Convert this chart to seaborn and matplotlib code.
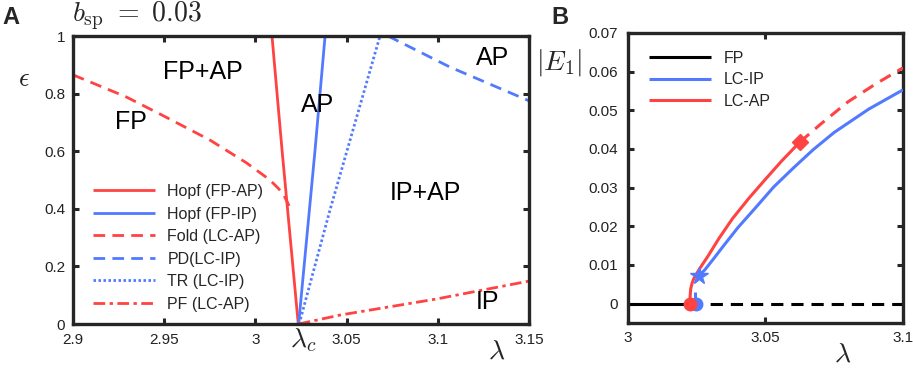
import numpy as np
import pandas as pd
import matplotlib
matplotlib.use("Agg")
import matplotlib.pyplot as plt
import seaborn as sns

# ---------------- data ----------------
# Panel A: bifurcation curves in (lambda, epsilon)
hopf_ap_lam = [3.0091, 3.0146, 3.0235]
hopf_ap_eps = [1.0, 0.604, 0.0]
hopf_ip_lam = [3.0382, 3.0327, 3.0237]
hopf_ip_eps = [1.0, 0.604, 0.0]
fold_lam = [2.900, 2.929, 2.948, 2.975, 2.995, 3.008, 3.015, 3.0185]
fold_eps = [0.865, 0.789, 0.728, 0.639, 0.560, 0.500, 0.455, 0.410]
pd_lam = [3.0727, 3.1067, 3.150]
pd_eps = [1.0, 0.892, 0.775]
tr_lam = [3.0240, 3.0409, 3.0683]
tr_eps = [0.0, 0.396, 1.0]
pf_lam = [3.0237, 3.0464, 3.0994, 3.150]
pf_eps = [0.0, 0.031, 0.087, 0.149]

region_labels = ["FP+AP", "FP", "AP", "AP", "IP+AP", "IP"]
region_lam = [2.971, 2.9317, 3.034, 3.130, 3.093, 3.127]
region_eps = [0.876, 0.700, 0.760, 0.922, 0.455, 0.076]

xticks_A = [2.9, 2.95, 3.0, 3.05, 3.1, 3.15]
xticklabels_A = ["2.9", "2.95", "3", "3.05", "3.1", "3.15"]
yticks_A = [0, 0.2, 0.4, 0.6, 0.8, 1.0]
yticklabels_A = ["0", "0.2", "0.4", "0.6", "0.8", "1"]

# Panel B: amplitude |E1| vs lambda
fp_solid_lam = [3.0, 3.0225]
fp_solid_E = [0.0, 0.0]
fp_dash_lam = [3.0225, 3.1]
fp_dash_E = [0.0, 0.0]
ap_lam = [3.0225, 3.0226, 3.0228, 3.0233, 3.024, 3.026, 3.029, 3.033, 3.038,
          3.044, 3.050, 3.056, 3.0625]
ap_E = [0.0, 0.002, 0.0038, 0.0053, 0.0066, 0.0090, 0.0122, 0.0168, 0.0220,
        0.0273, 0.0322, 0.0370, 0.0418]
ap_dash_lam = [3.0625, 3.070, 3.080, 3.090, 3.100]
ap_dash_E = [0.0418, 0.0464, 0.0522, 0.0568, 0.0610]
ip_stub_lam = [3.0245, 3.0245]
ip_stub_E = [0.0, 0.003]
ip_lam = [3.0258, 3.028, 3.031, 3.035, 3.040, 3.046, 3.053, 3.060, 3.0673,
          3.075, 3.0875, 3.100]
ip_E = [0.0072, 0.0088, 0.0115, 0.0152, 0.0197, 0.0245, 0.0302, 0.0350,
        0.0398, 0.0443, 0.0503, 0.0553]

ap_circle = (3.0225, 0.0)
ip_circle = (3.0246, 0.0)
ip_star = (3.0258, 0.0072)
ap_diamond = (3.0625, 0.0418)

xticks_B = [3.0, 3.05, 3.1]
xticklabels_B = ["3", "3.05", "3.1"]
yticks_B = [0, 0.01, 0.02, 0.03, 0.04, 0.05, 0.06, 0.07]
yticklabels_B = ["0", "0.01", "0.02", "0.03", "0.04", "0.05", "0.06", "0.07"]

# ---------------- style ----------------
sns.set_theme(style="ticks")
plt.rcParams["font.family"] = ["Liberation Sans", "DejaVu Sans"]
plt.rcParams["mathtext.fontset"] = "cm"

RED = "#FF4242"
BLUE = "#527AFF"
SPINE = "#262626"

W, H = 913, 370
fig = plt.figure(figsize=(W / 100, H / 100), dpi=100)

def px_axes(l, t, r, b):
    return fig.add_axes([l / W, 1 - b / H, (r - l) / W, (b - t) / H])

axA = px_axes(73, 36, 529, 324)
axB = px_axes(628, 33, 903, 323)

def line(ax, x, y, color, lw, dashes=None, label=None, zorder=2):
    df = pd.DataFrame({"x": x, "y": y})
    sns.lineplot(data=df, x="x", y="y", ax=ax, color=color, linewidth=lw,
                 sort=False, estimator=None, label=label, legend=False,
                 zorder=zorder)
    ln = ax.get_lines()[-1]
    if dashes is not None:
        ln.set_dashes(dashes)
    ln.set_solid_capstyle("butt")
    ln.set_dash_capstyle("butt")
    ln.set_solid_joinstyle("round")
    return ln

# ---------------- Panel A ----------------
lw = 2.0
h1 = line(axA, hopf_ap_lam, hopf_ap_eps, RED, lw, label="Hopf (FP-AP)")
h2 = line(axA, hopf_ip_lam, hopf_ip_eps, BLUE, lw, label="Hopf (FP-IP)")
h3 = line(axA, fold_lam, fold_eps, RED, lw, dashes=(4.2, 2.6), label="Fold (LC-AP)")
h4 = line(axA, pd_lam, pd_eps, BLUE, lw, dashes=(4.2, 2.6), label="PD(LC-IP)")
h5 = line(axA, tr_lam, tr_eps, BLUE, lw, dashes=(0.9, 0.9), label="TR (LC-IP)")
h6 = line(axA, pf_lam, pf_eps, RED, lw, dashes=(4.2, 1.6, 1.2, 1.6), label="PF (LC-AP)")

for t, x, y in zip(region_labels, region_lam, region_eps):
    axA.text(x, y, t, fontsize=18, ha="center", va="center", color="black")

axA.set_xlim(2.9, 3.15)
axA.set_ylim(0, 1)
axA.set_xticks(xticks_A)
axA.set_xticklabels(xticklabels_A)
axA.set_yticks(yticks_A)
axA.set_yticklabels(yticklabels_A)
axA.set_xlabel("")
axA.set_ylabel("")

axA.legend(handles=[h1, h2, h3, h4, h5, h6], loc="upper left",
           bbox_to_anchor=(20 / 456, 1 - 148 / 288), frameon=False,
           fontsize=11.5, handlelength=3.9, handletextpad=0.75,
           labelspacing=0.47, borderaxespad=0, borderpad=0)

# ---------------- Panel B ----------------
lwB = 2.2
line(axB, fp_solid_lam, fp_solid_E, "black", lwB, label="FP")
line(axB, fp_dash_lam, fp_dash_E, "black", lwB, dashes=(4.0, 2.6))
line(axB, ip_stub_lam, ip_stub_E, BLUE, lwB)
line(axB, ip_lam, ip_E, BLUE, lwB, label="LC-IP", zorder=3)
line(axB, ap_lam, ap_E, RED, lwB, label="LC-AP", zorder=4)
line(axB, ap_dash_lam, ap_dash_E, RED, lwB, dashes=(4.0, 2.6), zorder=4)

axB.plot([ip_circle[0]], [ip_circle[1]], "o", color=BLUE, ms=9, zorder=5, clip_on=False)
axB.plot([ap_circle[0]], [ap_circle[1]], "o", color=RED, ms=9, zorder=6, clip_on=False)
axB.plot([ip_star[0]], [ip_star[1]], "*", color=BLUE, ms=13, zorder=6)
axB.plot([ap_diamond[0]], [ap_diamond[1]], "D", color=RED, ms=8, zorder=6)

axB.set_xlim(3.0, 3.1)
axB.set_ylim(-0.005, 0.07)
axB.set_xticks(xticks_B)
axB.set_xticklabels(xticklabels_B)
axB.set_yticks(yticks_B)
axB.set_yticklabels(yticklabels_B)
axB.set_xlabel("")
axB.set_ylabel("")

hb = [l for l in axB.get_lines() if not l.get_label().startswith("_")]
axB.legend(handles=hb, loc="upper left", bbox_to_anchor=(21 / 275, 1 - 18 / 290),
           frameon=False, fontsize=11.5, handlelength=3.9, handletextpad=0.75,
           labelspacing=0.4, borderaxespad=0, borderpad=0)

for ax in (axA, axB):
    for s in ax.spines.values():
        s.set_linewidth(2.4)
        s.set_color(SPINE)
        s.set_visible(True)
    ax.tick_params(direction="in", length=4, width=2.2, color=SPINE,
                   labelsize=11, labelcolor="#222222", top=True, right=True)
axA.tick_params(axis="x", pad=6.5)
axA.tick_params(axis="y", pad=5.5)
axB.tick_params(axis="x", pad=5.5)
axB.tick_params(axis="y", pad=7.5)

# ---------------- annotations ----------------
def ftext(x, y, s, **kw):
    fig.text(x / W, 1 - y / H, s, **kw)

ftext(11, 18, "A", fontsize=17, fontweight="bold", ha="center", va="center")
ftext(560, 18, "B", fontsize=17, fontweight="bold", ha="center", va="center")
ftext(72, 16, r"$b_{\rm sp}\ =\ 0.03$", fontsize=20, ha="left", va="center")
ftext(24, 79, r"$\epsilon$", fontsize=19, ha="center", va="center")
ftext(303, 340, r"$\lambda_c$", fontsize=20, ha="center", va="center")
ftext(497, 352, r"$\lambda$", fontsize=20, ha="center", va="center")
ftext(843, 355, r"$\lambda$", fontsize=20, ha="center", va="center")
ftext(559, 63, r"$|E_1|$", fontsize=20, ha="center", va="center")

fig.savefig("out.png", dpi=100)
